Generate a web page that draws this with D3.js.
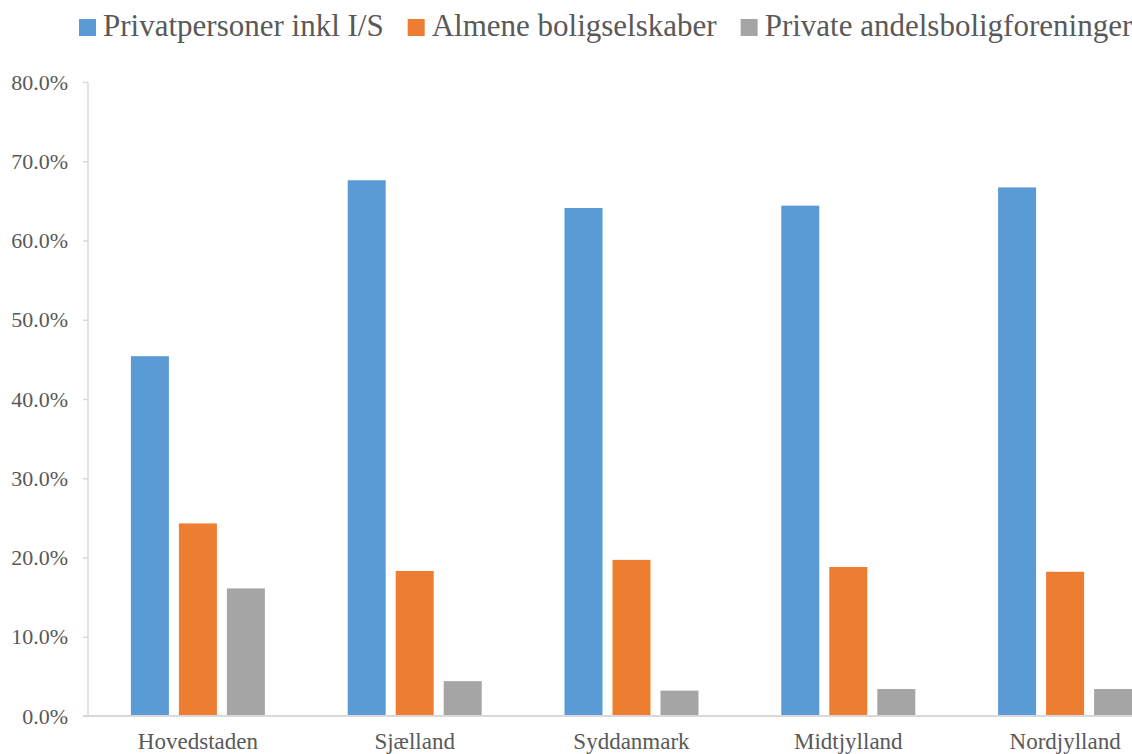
<!DOCTYPE html>
<html>
<head>
<meta charset="utf-8">
<script src="https://cdn.jsdelivr.net/npm/d3@7"></script>
<style>
  html, body { margin: 0; padding: 0; background: #fff; }
  svg { display: block; }
  text { font-family: "Liberation Serif", "DejaVu Serif", serif; fill: #595959; }
</style>
</head>
<body>
<svg id="chart" width="1132" height="754"></svg>
<script>
// Regions and the share of housing owned by each owner type
const regions = ["Hovedstaden", "Sjælland", "Syddanmark", "Midtjylland", "Nordjylland"];
const seriesNames = ["Privatpersoner inkl I/S", "Almene boligselskaber", "Private andelsboligforeninger"];
const privatpersoner = [0.454, 0.676, 0.641, 0.644, 0.667];
const almene = [0.243, 0.183, 0.197, 0.188, 0.182];
const andelsbolig = [0.161, 0.044, 0.032, 0.034, 0.034];
const yTicks = [0, 0.1, 0.2, 0.3, 0.4, 0.5, 0.6, 0.7, 0.8];
const colors = ["#5B9BD5", "#ED7D31", "#A5A5A5"];

const seriesValues = [privatpersoner, almene, andelsbolig];

const svg = d3.select("#chart");
const plotLeft = 88, plotRight = 1172, plotTop = 82, plotBottom = 716;

const y = d3.scaleLinear().domain([0, 0.8]).range([plotBottom, plotTop]);
const x0 = d3.scaleBand().domain(regions).range([plotLeft + 1.5, plotRight + 1.5]).paddingInner(0).paddingOuter(0);
const groupPad = 41.4;
const x1 = d3.scaleBand().domain(seriesNames)
  .range([groupPad, x0.bandwidth() - groupPad])
  .paddingInner(10 / 48).paddingOuter(0);

// Value axis
const yAxis = svg.append("g")
  .attr("transform", `translate(${plotLeft},0)`)
  .call(d3.axisLeft(y).tickValues(yTicks).tickFormat(d3.format(".1%")).tickSize(5).tickPadding(15));
yAxis.select(".domain").attr("stroke", "#D9D9D9").attr("stroke-width", 1.5)
  .attr("d", `M0,${plotTop}V${plotBottom}`);
yAxis.selectAll(".tick line").attr("stroke", "#D9D9D9").attr("stroke-width", 1.5);
yAxis.selectAll(".tick text")
  .attr("fill", "#595959")
  .style("font-family", '"Liberation Serif", serif')
  .style("font-size", "22px");

// Bars
const groups = svg.append("g").selectAll("g")
  .data(regions)
  .join("g")
  .attr("transform", d => `translate(${x0(d)},0)`);

groups.selectAll("rect")
  .data((d, i) => seriesNames.map((s, k) => ({ s, k, v: seriesValues[k][i] })))
  .join("rect")
  .attr("x", d => x1(d.s))
  .attr("width", x1.bandwidth())
  .attr("y", d => y(d.v))
  .attr("height", d => y(0) - y(d.v))
  .attr("fill", d => colors[d.k]);

// Category axis line
svg.append("line")
  .attr("x1", plotLeft - 5).attr("x2", 1132)
  .attr("y1", plotBottom).attr("y2", plotBottom)
  .attr("stroke", "#D9D9D9").attr("stroke-width", 2);

// Category labels
svg.append("g").selectAll("text")
  .data(regions)
  .join("text")
  .attr("x", d => x0(d) + x0.bandwidth() / 2)
  .attr("y", 749)
  .attr("text-anchor", "middle")
  .style("font-size", "23px")
  .text(d => d);

// Legend
const legend = svg.append("g");
let lx = 79;
seriesNames.forEach((name, k) => {
  legend.append("rect")
    .attr("x", lx).attr("y", 19)
    .attr("width", 17).attr("height", 17)
    .attr("fill", colors[k]);
  const t = legend.append("text")
    .attr("x", lx + 24).attr("y", 36)
    .style("font-size", "31px")
    .text(name);
  lx += 24 + t.node().getComputedTextLength() + 24;
});
</script>
</body>
</html>
